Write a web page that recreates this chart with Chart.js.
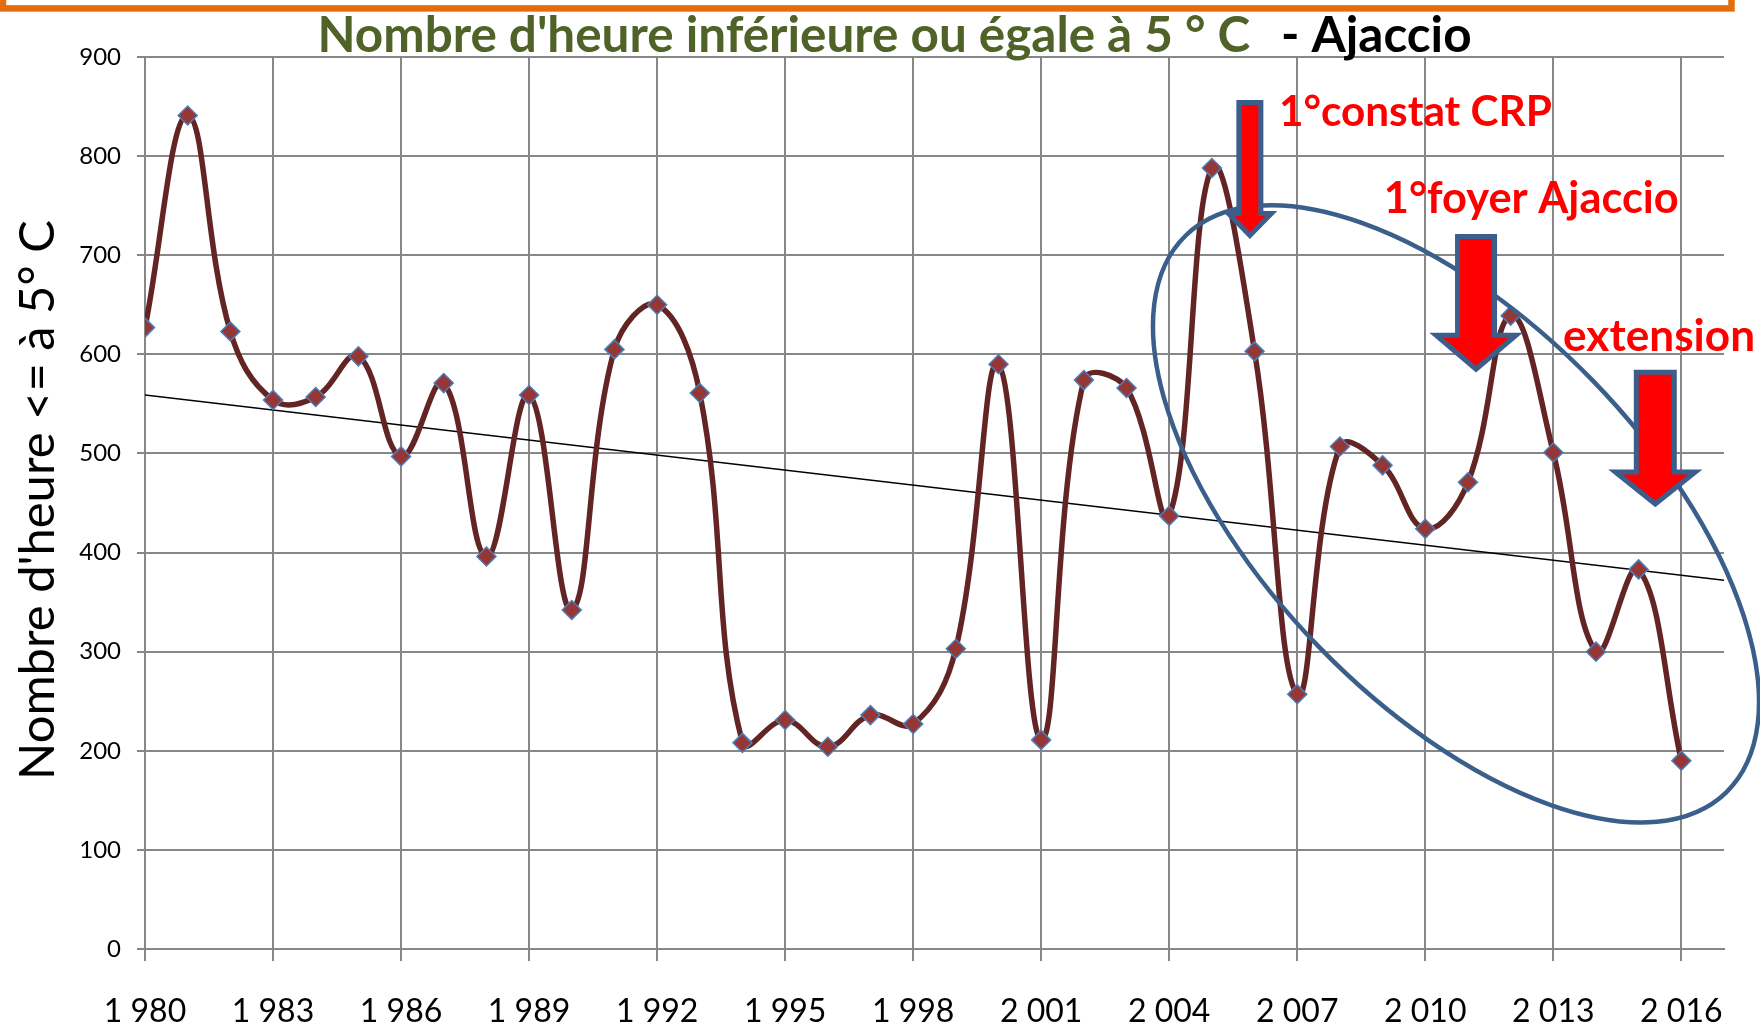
<!DOCTYPE html>
<html lang="fr">
<head>
<meta charset="utf-8">
<title>Nombre d'heure inférieure ou égale à 5 ° C - Ajaccio</title>
<script src="https://cdn.jsdelivr.net/npm/chart.js@4.4.0/dist/chart.umd.min.js"></script>
<style>
  html, body { margin: 0; padding: 0; background: #fff; }
  #wrap { width: 1760px; height: 1025px; }
</style>
</head>
<body>
<div id="wrap"><canvas id="chart" width="1760" height="1025"></canvas></div>
<script>
// Hours <= 5°C per year at Ajaccio
const years = [1980, 1981, 1982, 1983, 1984, 1985, 1986, 1987, 1988, 1989,
  1990, 1991, 1992, 1993, 1994, 1995, 1996, 1997, 1998, 1999,
  2000, 2001, 2002, 2003, 2004, 2005, 2006, 2007, 2008, 2009,
  2010, 2011, 2012, 2013, 2014, 2015, 2016];
const hours = [627, 841, 623, 554, 557, 598, 497, 571, 396, 559,
  342, 605, 650, 561, 208, 231, 204, 236, 227, 303,
  590, 211, 574, 566, 437, 788, 603, 257, 507, 488,
  424, 471, 639, 501, 300, 383, 190];

// linear trend line, end points
const trendYears = [1980, 2017];
const trendValues = [559, 372];

// axes
const xTicks = [1980, 1983, 1986, 1989, 1992, 1995, 1998, 2001, 2004, 2007, 2010, 2013, 2016];
const xTickLabels = ["1 980", "1 983", "1 986", "1 989", "1 992", "1 995", "1 998",
  "2 001", "2 004", "2 007", "2 010", "2 013", "2 016"];
const yMin = 0, yMax = 900, yStep = 100;

const titleMain = "Nombre d'heure inférieure ou égale à 5 ° C";
const titleCity = "- Ajaccio";
const yTitle = "Nombre d'heure <= à 5° C";

// annotations (anchored on the scales)
const arrows = [
  { x: 2005.89, top: 854, tip: 720, shaft: 22, head: 43, headLen: 22 },
  { x: 2011.19, top: 719, tip: 585, shaft: 37, head: 80, headLen: 34 },
  { x: 2015.39, top: 582, tip: 449, shaft: 38, head: 80, headLen: 32 }
];
const notes = [
  { text: "1°constat CRP", x: 2006.57, y: 830, width: 273 },
  { text: "1°foyer Ajaccio", x: 2009.03, y: 743, width: 295 },
  { text: "extension", x: 2013.23, y: 603, width: 192 }
];
const ring = { x: 2010.72, y: 439, rx: 388, ry: 191, angle: 45.85 };

function fitSize(ctx, text, weight, family, width) {
  ctx.font = weight + " 100px " + family;
  return 100 * width / ctx.measureText(text).width;
}

const decor = {
  id: "decor",
  beforeDraw(chart) {
    const ctx = chart.ctx;
    ctx.save();
    ctx.fillStyle = "#fff";
    ctx.fillRect(0, 0, chart.width, chart.height);
    // orange frame cut by the top edge
    ctx.strokeStyle = "#e46c0a";
    ctx.lineWidth = 6.5;
    ctx.strokeRect(3, -40, 1728.5, 48.4);
    ctx.restore();
  },
  afterDraw(chart) {
    const ctx = chart.ctx;
    const xs = chart.scales.x, ys = chart.scales.y;
    ctx.save();

    // title, two colours
    let size = fitSize(ctx, titleMain, "bold", "Lato", 933);
    ctx.font = "bold " + size + "px Lato";
    ctx.textBaseline = "alphabetic";
    ctx.textAlign = "left";
    ctx.fillStyle = "#4f6228";
    ctx.fillText(titleMain, 317.5, 52);
    ctx.fillStyle = "#000";
    ctx.fillText(titleCity, 1281, 52);

    // y axis title
    size = fitSize(ctx, yTitle, "normal", "Lato", 560);
    ctx.save();
    ctx.translate(54, 500);
    ctx.rotate(-Math.PI / 2);
    ctx.font = size + "px Lato";
    ctx.textAlign = "center";
    ctx.fillStyle = "#000";
    ctx.fillText(yTitle, 0, 0);
    ctx.restore();

    // ellipse
    ctx.beginPath();
    ctx.ellipse(xs.getPixelForValue(ring.x), ys.getPixelForValue(ring.y),
      ring.rx, ring.ry, ring.angle * Math.PI / 180, 0, 2 * Math.PI);
    ctx.lineWidth = 4.5;
    ctx.strokeStyle = "#3a5f8b";
    ctx.stroke();

    // arrows
    arrows.forEach(a => {
      const cx = xs.getPixelForValue(a.x);
      const top = ys.getPixelForValue(a.top);
      const tip = ys.getPixelForValue(a.tip);
      const base = tip - a.headLen;
      ctx.beginPath();
      ctx.moveTo(cx - a.shaft / 2, top);
      ctx.lineTo(cx + a.shaft / 2, top);
      ctx.lineTo(cx + a.shaft / 2, base);
      ctx.lineTo(cx + a.head / 2, base);
      ctx.lineTo(cx, tip);
      ctx.lineTo(cx - a.head / 2, base);
      ctx.lineTo(cx - a.shaft / 2, base);
      ctx.closePath();
      ctx.fillStyle = "#ff0000";
      ctx.fill();
      ctx.lineWidth = 5;
      ctx.lineJoin = "miter";
      ctx.strokeStyle = "#3b5e8c";
      ctx.stroke();
    });

    // red labels
    ctx.textAlign = "left";
    ctx.fillStyle = "#ff0000";
    notes.forEach(n => {
      const s = fitSize(ctx, n.text, "bold", "Lato", n.width);
      ctx.font = "bold " + s + "px Lato";
      ctx.fillText(n.text, xs.getPixelForValue(n.x), ys.getPixelForValue(n.y));
    });
    ctx.restore();
  }
};

const points = years.map((yr, i) => ({ x: yr, y: hours[i] }));
const trend = trendYears.map((yr, i) => ({ x: yr, y: trendValues[i] }));

const ctx = document.getElementById("chart").getContext("2d");
const chart = new Chart(ctx, {
  type: "line",
  data: {
    datasets: [
      {
        data: points,
        borderColor: "#632523",
        borderWidth: 5.5,
        tension: 0.4,
        pointStyle: "rectRot",
        pointRadius: 9.5,
        pointBackgroundColor: "#953735",
        pointBorderColor: "#4a7ebb",
        pointBorderWidth: 1.5,
        order: 0
      },
      {
        data: trend,
        borderColor: "#000",
        borderWidth: 1.5,
        pointRadius: 0,
        tension: 0,
        order: 1
      }
    ]
  },
  options: {
    responsive: false,
    animation: false,
    devicePixelRatio: 1,
    layout: { padding: { left: 0, right: 36, top: 57, bottom: 0 } },
    plugins: {
      legend: { display: false },
      title: { display: false },
      tooltip: { enabled: false }
    },
    scales: {
      x: {
        type: "linear",
        min: 1980,
        max: 2017,
        afterBuildTicks: s => { s.ticks = xTicks.map(v => ({ value: v })); },
        afterFit: s => { s.height = 76; },
        ticks: {
          callback: (v, i) => xTickLabels[i],
          font: { family: "Lato", size: 32 },
          color: "#000",
          padding: 31,
          maxRotation: 0,
          autoSkip: false
        },
        grid: { color: "#878787", lineWidth: 2, tickLength: 12 },
        border: { color: "#878787", width: 2 }
      },
      y: {
        min: yMin,
        max: yMax,
        afterFit: s => { s.width = 145; },
        ticks: {
          stepSize: yStep,
          font: { family: "Lato", size: 24 },
          color: "#000",
          padding: 16
        },
        grid: { color: "#878787", lineWidth: 2, tickLength: 8 },
        border: { color: "#878787", width: 2 }
      }
    }
  },
  plugins: [decor]
});
</script>
</body>
</html>
